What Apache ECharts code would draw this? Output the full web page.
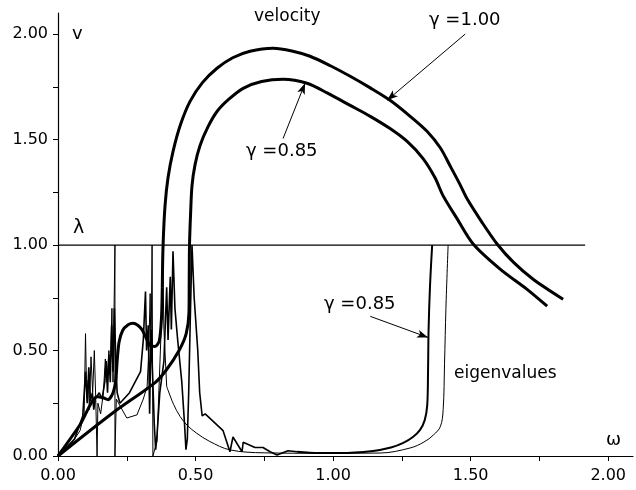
<!DOCTYPE html>
<html>
<head>
<meta charset="utf-8">
<script src="https://cdn.jsdelivr.net/npm/echarts@6/dist/echarts.min.js"></script>
<style>html,body{margin:0;padding:0;background:#fff}#c{width:636px;height:490px}</style>
</head>
<body>
<div id="c"></div>
<script>
// ---- tick values ----
const xTicks = [0, 0.25, 0.5, 0.75, 1.0, 1.25, 1.5, 1.75, 2.0];
const xLabels = [0, 0.5, 1.0, 1.5, 2.0];
const yTicks = [0, 0.25, 0.5, 0.75, 1.0, 1.25, 1.5, 1.75, 2.0];
const yLabels = [0, 0.5, 1.0, 1.5, 2.0];

// ---- velocity, gamma = 1.00 ----
const velG100Low = [[0,0],[0.08,0.148],[0.142,0.281],[0.164,0.276],[0.182,0.267],[0.2,0.3],[0.21,0.36],
  [0.215,0.45],[0.222,0.54],[0.235,0.595],[0.255,0.622],[0.273,0.629],[0.29,0.62],[0.306,0.598],
  [0.32,0.56],[0.335,0.524],[0.353,0.519],[0.368,0.545],[0.376,0.65],[0.379,0.8]];
const velG100High = [[0.379,0.8],[0.382,1.0],[0.389,1.186],[0.4,1.32],[0.418,1.443],[0.445,1.57],
  [0.48,1.681],[0.525,1.77],[0.578,1.838],[0.635,1.888],[0.698,1.919],[0.782,1.933],[0.85,1.92],
  [0.916,1.895],[0.99,1.85],[1.062,1.8],[1.135,1.745],[1.207,1.686],[1.28,1.61],[1.342,1.538],
  [1.39,1.46],[1.425,1.376],[1.46,1.29],[1.487,1.219],[1.54,1.11],[1.596,1.005],[1.655,0.919],
  [1.727,0.838],[1.836,0.743]];

// ---- velocity, gamma = 0.85 ----
const velG085 = [[0,0],[0.2,0.205],[0.353,0.348],[0.395,0.41],[0.44,0.5],[0.466,0.58],[0.476,0.68],
  [0.477,0.85],[0.478,1.0],[0.482,1.15],[0.487,1.281],[0.498,1.38],[0.516,1.471],[0.545,1.56],
  [0.578,1.633],[0.62,1.69],[0.673,1.743],[0.74,1.775],[0.818,1.786],[0.905,1.767],[0.98,1.72],
  [1.062,1.662],[1.135,1.61],[1.207,1.552],[1.27,1.49],[1.327,1.41],[1.37,1.32],[1.4,1.233],
  [1.451,1.124],[1.509,1.005],[1.607,0.886],[1.705,0.79],[1.778,0.71]];

// ---- eigenvalues, gamma = 0.85 (spiky low-frequency part, smooth tail) ----
const eigG085Low = [[0,0],[0.06,0.08],[0.09,0.19],[0.1,0.4],[0.106,0.25],[0.112,0.42],[0.118,0.26],
  [0.125,0.3],[0.13,0.22],[0.135,0.27],[0.15,0.3],[0.16,0.27],[0.17,0.35],[0.175,0.45],[0.18,0.3],
  [0.185,0.48],[0.19,0.35],[0.195,0.62],[0.2,0.4],[0.205,0.7],[0.21,0.45],[0.215,0.3],[0.225,0.25],
  [0.26,0.3],[0.3,0.4],[0.31,0.55],[0.318,0.78],[0.322,0.5],[0.328,0.62],[0.333,0.2],[0.338,0.6],
  [0.35,0.15],[0.355,0.03],[0.36,0.1],[0.37,0.3],[0.385,0.45],[0.395,0.8],[0.4,0.55],[0.408,0.85],
  [0.412,0.6],[0.418,0.97],[0.425,0.7],[0.435,0.55],[0.45,0.35],[0.46,0.15],[0.465,0.03],[0.47,0.08],
  [0.475,0.3],[0.48,0.6],[0.487,1.0],[0.495,0.75],[0.508,0.5],[0.515,0.3],[0.524,0.19],[0.535,0.2],
  [0.6,0.12],[0.625,0.02],[0.636,0.09],[0.669,0.02],[0.673,0.065],[0.716,0.04],[0.745,0.04],
  [0.771,0.02],[0.796,0.005],[0.836,0.025],[0.869,0.02]];
const eigG085High = [[0.869,0.02],[0.95,0.014],[1.025,0.014],[1.145,0.024],[1.21,0.04],[1.255,0.062],
  [1.29,0.09],[1.316,0.124],[1.333,0.17],[1.342,0.24],[1.345,0.4],[1.347,0.6],[1.352,0.8],[1.36,1.0]];

// ---- eigenvalues, gamma = 1.00 (spiky low-frequency part, smooth tail) ----
const eigG100Low = [[0,0],[0.04,0.04],[0.08,0.12],[0.095,0.2],[0.1,0.58],[0.104,0.3],[0.11,0.36],
  [0.114,0.22],[0.12,0.47],[0.126,0.3],[0.132,0.5],[0.137,0.28],[0.142,0.28],[0.142,0.0],[0.145,0.25],
  [0.155,0.2],[0.165,0.3],[0.172,0.46],[0.178,0.35],[0.185,0.5],[0.19,0.4],[0.196,0.7],[0.2,0.35],
  [0.207,1.0],[0.207,0.0],[0.212,0.27],[0.25,0.18],[0.287,0.195],[0.31,0.27],[0.324,0.33],[0.33,0.5],
  [0.335,0.77],[0.338,0.45],[0.342,1.0],[0.345,0.0],[0.36,0.07],[0.375,0.6],[0.38,1.0],[0.385,0.6],
  [0.395,0.33]];
const eigG100High = [[0.395,0.33],[0.42,0.245],[0.444,0.187],[0.47,0.145],[0.504,0.108],[0.55,0.07],
  [0.625,0.029],[0.75,0.015],[0.953,0.013],[1.171,0.014],[1.28,0.038],[1.33,0.066],[1.365,0.1],
  [1.39,0.14],[1.4,0.22],[1.405,0.44],[1.41,0.7],[1.418,1.0]];

// ---- lambda = 1 reference line ----
const lambdaLine = [[0,1.0],[1.916,1.0]];

// ---- annotation arrows [from, to] in data units ----
const arrowG100 = [[1.48,2.0],[1.196,1.686]];
const arrowVel085 = [[0.818,1.505],[0.898,1.767]];
const arrowEig085 = [[1.135,0.662],[1.345,0.562]];

const INK = '#000';
const FONT = 'DejaVu Sans';

function lineSeries(name, data, width, z, smooth) {
  return {
    name, type: 'line', data, showSymbol: false, symbol: 'none', smooth: smooth || false,
    lineStyle: { color: INK, width }, z, silent: true, animation: false
  };
}
function arrowML(pair) {
  return [{ coord: pair[0] }, { coord: pair[1] }];
}
const arrowStyle = {
  silent: true, symbol: ['none', 'arrow'], symbolSize: [6, 11], animation: false,
  label: { show: false }, lineStyle: { color: INK, width: 1, type: 'solid' }
};

const chart = echarts.init(document.getElementById('c'), null, { renderer: 'canvas' });
chart.setOption({
  backgroundColor: '#fff',
  animation: false,
  grid: { left: 58, right: 3, top: 13, bottom: 34, containLabel: false },
  xAxis: {
    type: 'value', min: 0, max: 2.09,
    axisLine: { lineStyle: { color: INK, width: 1.2 } },
    axisTick: { show: true, inside: false, length: 5, customValues: xTicks, lineStyle: { color: INK } },
    axisLabel: { customValues: xLabels, formatter: v => v.toFixed(2), color: INK, fontFamily: FONT, fontSize: 16, margin: 12 },
    splitLine: { show: false }
  },
  yAxis: {
    type: 'value', min: 0, max: 2.1,
    axisLine: { show: true, lineStyle: { color: INK, width: 1.2 } },
    axisTick: { show: true, inside: false, length: 5, customValues: yTicks, lineStyle: { color: INK } },
    axisLabel: { customValues: yLabels, formatter: v => v.toFixed(2), color: INK, fontFamily: FONT, fontSize: 16, margin: 10 },
    splitLine: { show: false }
  },
  series: [
    lineSeries('lambda', lambdaLine, 1.2, 1),
    lineSeries('eigenvalues γ=1.00 (low)', eigG100Low, 1, 2),
    lineSeries('eigenvalues γ=1.00 (high)', eigG100High, 1, 2, 0.35),
    lineSeries('eigenvalues γ=0.85 (low)', eigG085Low, 1.6, 3),
    Object.assign(lineSeries('eigenvalues γ=0.85 (high)', eigG085High, 2, 3, 0.35), {
      markLine: Object.assign({ data: [arrowML(arrowEig085)] }, arrowStyle)
    }),
    Object.assign(lineSeries('velocity γ=0.85', velG085, 3, 4, 0.3), {
      markLine: Object.assign({ data: [arrowML(arrowVel085)] }, arrowStyle)
    }),
    lineSeries('velocity γ=1.00 (low)', velG100Low, 3, 5, 0.25),
    Object.assign(lineSeries('velocity γ=1.00', velG100High, 3, 5, 0.3), {
      markLine: Object.assign({ data: [arrowML(arrowG100)] }, arrowStyle)
    })
  ],
  graphic: [
    { type: 'text', left: 254, top: 8, style: { text: 'velocity', font: '17px "DejaVu Sans"', fill: INK } },
    { type: 'text', left: 72, top: 25, style: { text: 'v', font: '18px "DejaVu Sans"', fill: INK } },
    { type: 'text', left: 73, top: 219, style: { text: 'λ', font: '19px "DejaVu Sans"', fill: INK } },
    { type: 'text', left: 606, top: 431, style: { text: 'ω', font: '18px "DejaVu Sans"', fill: INK } },
    { type: 'text', left: 429, top: 11, style: { text: 'γ =1.00', font: '18px "DejaVu Sans"', fill: INK } },
    { type: 'text', left: 246, top: 142, style: { text: 'γ =0.85', font: '18px "DejaVu Sans"', fill: INK } },
    { type: 'text', left: 324, top: 295, style: { text: 'γ =0.85', font: '18px "DejaVu Sans"', fill: INK } },
    { type: 'text', left: 454, top: 365, style: { text: 'eigenvalues', font: '17px "DejaVu Sans"', fill: INK } }
  ]
});
</script>
</body>
</html>
